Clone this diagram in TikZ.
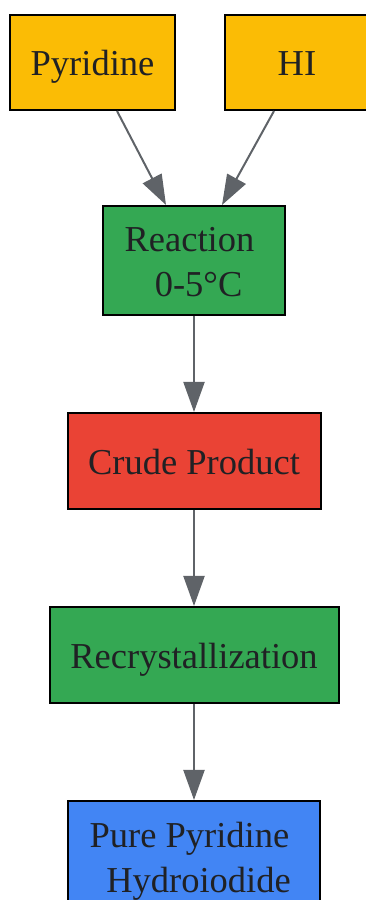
\documentclass[tikz,border=0pt]{standalone}
\usepackage{fontspec}
\setmainfont{Liberation Serif}
\usetikzlibrary{positioning, arrows.meta}
\definecolor{reagentyellow}{HTML}{FBBC05}
\definecolor{processgreen}{HTML}{34A853}
\definecolor{crudered}{HTML}{EA4335}
\definecolor{productblue}{HTML}{4285F4}
\definecolor{flowgrey}{HTML}{5F6368}
\definecolor{labelink}{HTML}{202124}
\newcommand{\lblgap}{\hbox to .25em{}}

\begin{document}
\begin{tikzpicture}[x=1pt, y=1pt, node distance=96pt]
\tikzstyle{reagent} = [rectangle, minimum height=95pt, inner sep=0pt, text height=27pt, text depth=0pt, align=center, draw=black, line width=2pt, fill=reagentyellow, text=labelink, font=\fontsize{36.5}{45}\selectfont]
\tikzstyle{process} = [rectangle, minimum height=96pt, inner sep=0pt, text height=27pt, text depth=0pt, align=center, draw=black, line width=2pt, fill=processgreen, text=labelink, font=\fontsize{36.5}{45}\selectfont]
\tikzstyle{crude} = [rectangle, minimum height=96pt, inner sep=0pt, text height=27pt, text depth=0pt, align=center, draw=black, line width=2pt, fill=crudered, text=labelink, font=\fontsize{36.5}{45}\selectfont]
\tikzstyle{product} = [rectangle, minimum height=109pt, inner sep=0pt, text height=73pt, text depth=0pt, align=center, draw=black, line width=2pt, fill=productblue, text=labelink, font=\fontsize{36.5}{45}\selectfont]
\tikzstyle{flow} = [-{Triangle[length=30pt, width=21pt]}, line width=2pt, flowgrey]

\useasboundingbox (0,0) rectangle (365,900);

\node (pyridine) [reagent, minimum width=165pt] at (92.5,837.5) {Pyridine};
\node (hi) [reagent, minimum width=144pt, right=48pt of pyridine] {HI};
\node (reaction) [process, minimum width=182pt, minimum height=109pt, text height=73pt] at (194,639.5) {Reaction\lblgap\\\lblgap 0-5°C};
\node (crudeprod) [crude, minimum width=253pt, below=of reaction] {Crude Product};
\node (recryst) [process, minimum width=289pt, below=of crudeprod] {Recrystallization};
\node (pure) [product, minimum width=252pt, below=of recryst] {Pure Pyridine\lblgap\\\lblgap Hydroiodide};

\draw[flow] ([xshift=24.5pt]pyridine.south) -- ([xshift=-28pt]reaction.north);
\draw[flow] ([xshift=-23pt]hi.south) -- ([xshift=28pt]reaction.north);
\draw[flow] (reaction) -- (crudeprod);
\draw[flow] (crudeprod) -- (recryst);
\draw[flow] (recryst) -- (pure);

\end{tikzpicture}
\end{document}
